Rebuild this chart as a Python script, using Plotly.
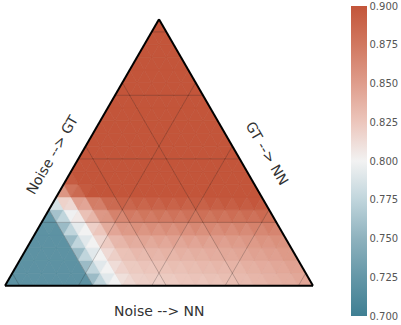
import plotly.graph_objects as go
from plotly.colors import sample_colorscale

# Ternary grid: 21 divisions. Each row is one GT level (row 0 at the bottom),
# values are for the upward triangles from the Noise corner toward the NN corner.
SCALE = 21
row00 = [0.72, 0.72, 0.72, 0.72, 0.72, 0.72, 0.775, 0.80, 0.815, 0.82, 0.82, 0.822, 0.825, 0.825, 0.827, 0.83, 0.832, 0.835, 0.838, 0.84, 0.845]
row01 = [0.72, 0.72, 0.72, 0.72, 0.72, 0.775, 0.80, 0.818, 0.823, 0.825, 0.827, 0.828, 0.83, 0.832, 0.833, 0.835, 0.838, 0.84, 0.843, 0.847]
row02 = [0.72, 0.72, 0.72, 0.72, 0.775, 0.80, 0.82, 0.828, 0.832, 0.834, 0.835, 0.836, 0.838, 0.84, 0.842, 0.844, 0.846, 0.848, 0.852]
row03 = [0.72, 0.72, 0.72, 0.775, 0.80, 0.822, 0.835, 0.84, 0.842, 0.843, 0.844, 0.845, 0.846, 0.848, 0.85, 0.852, 0.854, 0.857]
row04 = [0.72, 0.72, 0.775, 0.80, 0.825, 0.845, 0.852, 0.855, 0.856, 0.857, 0.858, 0.859, 0.86, 0.861, 0.862, 0.864, 0.866]
row05 = [0.725, 0.775, 0.805, 0.835, 0.855, 0.865, 0.87, 0.872, 0.873, 0.874, 0.875, 0.876, 0.877, 0.878, 0.879, 0.88]
row06 = [0.785, 0.815, 0.845, 0.87, 0.885, 0.887, 0.888, 0.889, 0.89, 0.89, 0.891, 0.892, 0.893, 0.894, 0.895]
row07 = [0.855, 0.885, 0.90, 0.90, 0.902, 0.903, 0.904, 0.905, 0.905, 0.906, 0.906, 0.907, 0.907, 0.908]
row08 = [0.895, 0.905, 0.91, 0.91, 0.91, 0.91, 0.911, 0.911, 0.911, 0.912, 0.912, 0.912, 0.913]
row09 = [0.91, 0.91, 0.912, 0.912, 0.913, 0.913, 0.914, 0.914, 0.914, 0.915, 0.915, 0.915]
row10 = [0.912, 0.913, 0.914, 0.915, 0.915, 0.916, 0.916, 0.917, 0.917, 0.917, 0.918]
row11 = [0.914, 0.915, 0.916, 0.917, 0.917, 0.918, 0.918, 0.919, 0.919, 0.92]
row12 = [0.916, 0.917, 0.918, 0.918, 0.919, 0.919, 0.92, 0.92, 0.921]
row13 = [0.918, 0.919, 0.92, 0.92, 0.921, 0.921, 0.922, 0.922]
row14 = [0.92, 0.921, 0.921, 0.922, 0.922, 0.923, 0.923]
row15 = [0.922, 0.922, 0.923, 0.923, 0.924, 0.924]
row16 = [0.923, 0.924, 0.924, 0.925, 0.925]
row17 = [0.925, 0.925, 0.926, 0.926]
row18 = [0.926, 0.927, 0.927]
row19 = [0.928, 0.928]
row20 = [0.93]
rows = [row00, row01, row02, row03, row04, row05, row06, row07, row08, row09, row10,
        row11, row12, row13, row14, row15, row16, row17, row18, row19, row20]

cbar_ticks = [0.700, 0.725, 0.750, 0.775, 0.800, 0.825, 0.850, 0.875, 0.900]
cbar_labels = ["0.700", "0.725", "0.750", "0.775", "0.800", "0.825", "0.850", "0.875", "0.900"]
VMIN, VMAX = 0.70, 0.90

colorscale = [
    [0.0, "rgb(63,127,147)"],
    [0.125, "rgb(100,151,167)"],
    [0.25, "rgb(142,178,190)"],
    [0.375, "rgb(192,213,220)"],
    [0.5, "rgb(242,242,242)"],
    [0.625, "rgb(236,198,188)"],
    [0.75, "rgb(223,157,140)"],
    [0.875, "rgb(209,120,96)"],
    [1.0, "rgb(195,85,58)"],
]


def to_color(v):
    t = min(max((v - VMIN) / (VMAX - VMIN), 0.0), 1.0)
    return sample_colorscale(colorscale, [t])[0]


fig = go.Figure()


def add_tri(verts, v):
    a = [p[0] for p in verts] + [verts[0][0]]
    b = [p[1] for p in verts] + [verts[0][1]]
    c = [p[2] for p in verts] + [verts[0][2]]
    col = to_color(v)
    fig.add_trace(go.Scatterternary(
        a=a, b=b, c=c, mode="lines", fill="toself", fillcolor=col,
        line=dict(color=col, width=0.6), hoverinfo="skip", showlegend=False))


for r, row in enumerate(rows):
    for m, v in enumerate(row):
        n = SCALE - r - m
        add_tri([(r, n, m), (r, n - 1, m + 1), (r + 1, n - 1, m)], v)
        if r + 1 < SCALE and m + 1 < len(row):
            dv = (row[m] + row[m + 1] + rows[r + 1][m]) / 3.0
            add_tri([(r + 1, n - 1, m), (r, n - 1, m + 1), (r + 1, n - 2, m + 1)], dv)

# darker gridlines every 5 units
for k in (5, 10, 15, 20):
    line_style = dict(color="rgba(0,0,0,0.25)", width=0.8)
    fig.add_trace(go.Scatterternary(a=[k, k], b=[SCALE - k, 0], c=[0, SCALE - k], mode="lines",
                                    line=line_style, hoverinfo="skip", showlegend=False))
    fig.add_trace(go.Scatterternary(a=[0, SCALE - k], b=[k, k], c=[SCALE - k, 0], mode="lines",
                                    line=line_style, hoverinfo="skip", showlegend=False))
    fig.add_trace(go.Scatterternary(a=[0, SCALE - k], b=[SCALE - k, 0], c=[k, k], mode="lines",
                                    line=line_style, hoverinfo="skip", showlegend=False))

# colorbar carrier
fig.add_trace(go.Scatterternary(
    a=[SCALE, SCALE], b=[0, 0], c=[0, 0], mode="markers",
    marker=dict(size=0.1, color=[VMIN, VMAX], colorscale=colorscale, cmin=VMIN, cmax=VMAX,
                showscale=True,
                colorbar=dict(
                    x=351 / 401, xanchor="left", xpad=0, ypad=0,
                    y=(325 - 161) / 325, yanchor="middle",
                    len=310, lenmode="pixels", thickness=16, thicknessmode="pixels",
                    outlinewidth=0, ticks="", tickmode="array", tickvals=cbar_ticks,
                    ticktext=cbar_labels, ticklabelposition="outside",
                    tickfont=dict(family="DejaVu Sans", size=10, color="#555555"))),
    hoverinfo="skip", showlegend=False))

axis_common = dict(showticklabels=False, ticks="", showgrid=True, gridcolor="rgba(0,0,0,0.28)",
                   gridwidth=0.6, tickmode="linear", dtick=1, tick0=0, layer="above traces",
                   showline=True, linecolor="black", linewidth=2, title=dict(text=""), min=0)

fig.update_layout(
    width=401, height=325,
    margin=dict(l=0, r=0, t=0, b=0),
    paper_bgcolor="white", plot_bgcolor="white",
    showlegend=False,
    ternary=dict(
        sum=SCALE,
        bgcolor="white",
        domain=dict(x=[5 / 401, 313 / 401], y=[(325 - 287) / 325, (325 - 18) / 325]),
        aaxis=axis_common, baxis=axis_common, caxis=axis_common,
    ),
    annotations=[
        dict(text="Noise --> GT", x=52 / 401, y=(325 - 155) / 325, xref="paper", yref="paper",
             xanchor="center", yanchor="middle",
             showarrow=False, textangle=-60, font=dict(family="DejaVu Sans", size=14, color="#333333")),
        dict(text="GT --> NN", x=267 / 401, y=(325 - 153) / 325, xref="paper", yref="paper",
             xanchor="center", yanchor="middle",
             showarrow=False, textangle=60, font=dict(family="DejaVu Sans", size=14, color="#333333")),
        dict(text="Noise --> NN", x=159 / 401, y=(325 - 311) / 325, xref="paper", yref="paper",
             xanchor="center", yanchor="middle",
             showarrow=False, font=dict(family="DejaVu Sans", size=14, color="#333333")),
    ],
)

fig.write_html("out.html", config={"displayModeBar": False},
               post_script="document.body.style.margin='0px';")
